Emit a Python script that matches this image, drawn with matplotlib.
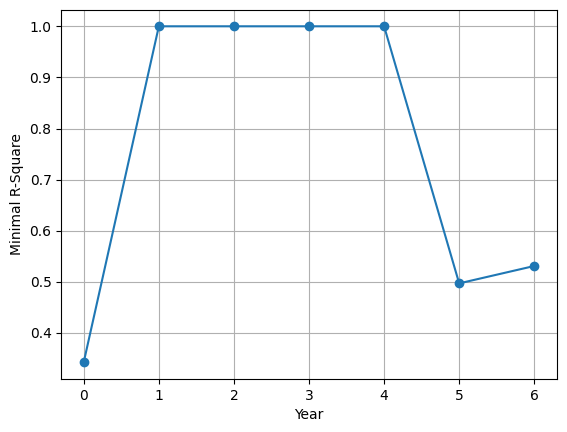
import matplotlib
matplotlib.use('Agg')
import matplotlib.pyplot as plt

years = [0, 1, 2, 3, 4, 5, 6]
min_r_square = [0.343, 1.0, 1.0, 1.0, 1.0, 0.497, 0.531]

fig = plt.figure(figsize=(5.67, 4.32), dpi=100)
fig.subplots_adjust(left=0.108, right=0.982, bottom=0.123, top=0.978)
plt.plot(years, min_r_square, 'o-')
plt.xlabel('Year')
plt.ylabel('Minimal R-Square')
plt.grid()
plt.savefig('out.png', dpi=100)
